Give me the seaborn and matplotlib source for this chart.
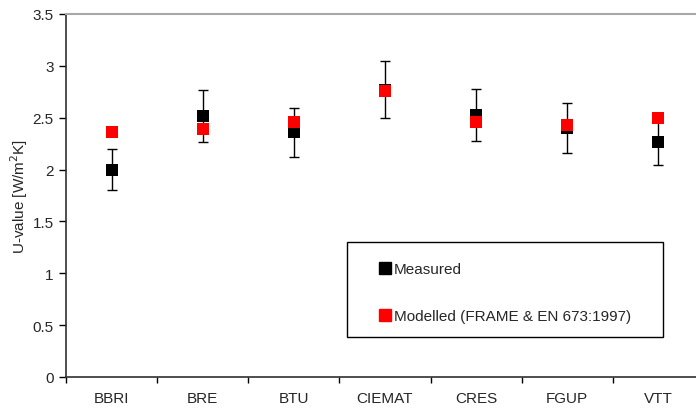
import matplotlib
matplotlib.use("Agg")
import matplotlib.pyplot as plt
from matplotlib.lines import Line2D
from matplotlib.patches import Rectangle
import seaborn as sns
import pandas as pd

# Laboratories taking part in the round robin
labs = ["BBRI", "BRE", "BTU", "CIEMAT", "CRES", "FGUP", "VTT"]
# Measured U-values and their uncertainty [W/m2K]
measured = [2.00, 2.52, 2.36, 2.77, 2.53, 2.40, 2.27]
measured_err = [0.20, 0.25, 0.235, 0.275, 0.25, 0.24, 0.225]
# Calculated U-values (FRAME & EN 673:1997)
modelled = [2.36, 2.39, 2.46, 2.76, 2.46, 2.43, 2.50]

y_ticks = [0, 0.5, 1, 1.5, 2, 2.5, 3, 3.5]
y_tick_labels = ["0", "0.5", "1", "1.5", "2", "2.5", "3", "3.5"]

FS = 11

sns.set_style("ticks")
plt.rcParams["font.family"] = ["Liberation Sans", "DejaVu Sans"]
plt.rcParams["font.size"] = FS

df = pd.DataFrame({"lab": labs, "measured": measured,
                   "err": measured_err, "modelled": modelled})
df["pos"] = range(len(labs))

W, H = 696, 410
fig = plt.figure(figsize=(W / 100, H / 100), dpi=100)
ax = fig.add_axes([66 / W, (H - 378) / H, (704 - 66) / W, (378 - 15) / H])

ax.errorbar(df["pos"], df["measured"], yerr=df["err"], fmt="none",
            ecolor="black", elinewidth=1.0, capsize=3.5, capthick=1.0, zorder=2)
sns.scatterplot(data=df, x="pos", y="measured", marker="s", s=80,
                color="black", linewidth=0, ax=ax, zorder=3)
sns.scatterplot(data=df, x="pos", y="modelled", marker="s", s=80,
                color="#ff0000", linewidth=0, ax=ax, zorder=4)

ax.set_xlim(-0.5, len(labs) - 0.5)
ax.set_ylim(0, 3.5)
ax.set_yticks(y_ticks)
ax.set_yticklabels(y_tick_labels)
ax.set_xticks([i - 0.5 for i in range(len(labs) + 1)])
ax.set_xticklabels([])
ax.set_xticks(list(range(len(labs))), minor=True)
ax.set_xticklabels(labs, minor=True)
ax.tick_params(axis="x", which="major", direction="out", length=4, width=1, color="black")
ax.tick_params(axis="x", which="minor", length=0, pad=10, labelsize=FS)
ax.tick_params(axis="y", direction="out", length=5, width=1, color="black",
               pad=4, labelsize=FS)
ax.set_xlabel("")
ax.set_ylabel("U-value [W/m$^2$K]", fontsize=FS)
ax.yaxis.set_label_coords((30 - 66) / (704 - 66), 0.5)

for side in ["left", "bottom"]:
    ax.spines[side].set_color("#303030")
    ax.spines[side].set_linewidth(1.2)
ax.spines["top"].set_visible(True)
ax.spines["top"].set_color("#a8a8a8")
ax.spines["top"].set_linewidth(1.5)
ax.spines["right"].set_visible(False)

# Legend box
fig.patches.append(Rectangle((347 / W, (H - 338) / H), 316 / W, 95 / H,
                             transform=fig.transFigure, fill=False,
                             edgecolor="black", linewidth=1.0))
handles = [
    Line2D([], [], marker="s", linestyle="none", color="black", markersize=8),
    Line2D([], [], marker="s", linestyle="none", color="#ff0000", markersize=8),
]
ax.legend(handles, ["Measured", "Modelled (FRAME & EN 673:1997)"],
          loc="center left", bbox_to_anchor=(379.5 / W, 1 - 293.5 / H),
          bbox_transform=fig.transFigure, frameon=False, borderpad=0,
          borderaxespad=0, handlelength=0.75, handletextpad=0.2,
          labelspacing=2.15, fontsize=FS)

fig.savefig("out.png", dpi=100)
